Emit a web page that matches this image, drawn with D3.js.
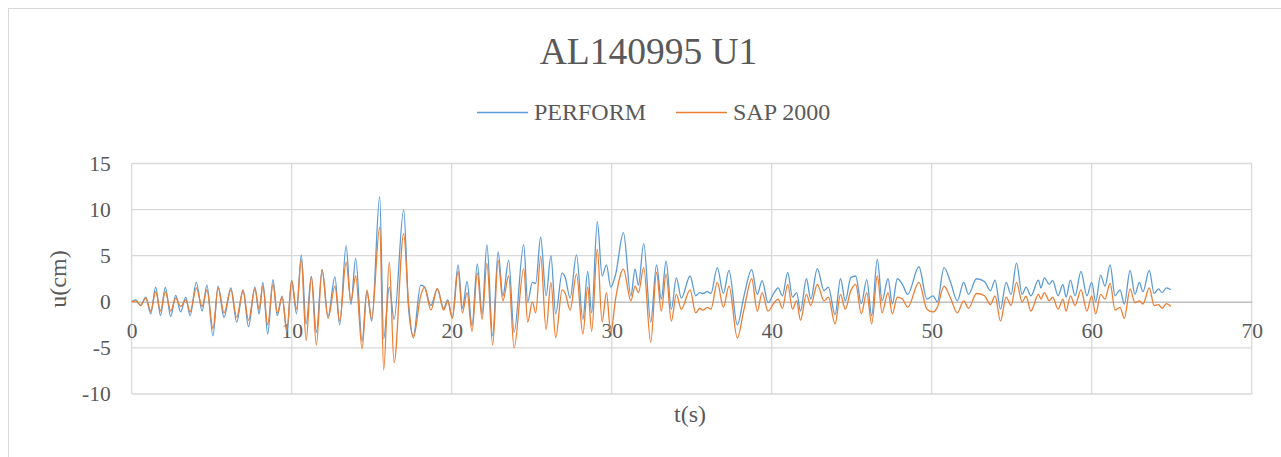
<!DOCTYPE html>
<html>
<head>
<meta charset="utf-8">
<script src="https://cdn.jsdelivr.net/npm/d3@7"></script>
<style>
  html, body { margin: 0; padding: 0; background: #fff; }
  svg { display: block; }
  text { font-family: "Liberation Serif", "Times New Roman", serif; fill: #595959; }
</style>
</head>
<body>
<svg id="chart" width="1281" height="457"></svg>
<script>
// ---- Data ----
const title = "AL140995 U1";
const seriesNames = ["PERFORM", "SAP 2000"];
const xTicks = [0, 10, 20, 30, 40, 50, 60, 70];
const yTicks = [-10, -5, 0, 5, 10, 15];

const time = [
  0.0, 0.25, 0.56, 0.88, 1.19, 1.5, 1.8, 2.1, 2.44, 2.75, 3.06, 3.38, 3.65, 4.04, 4.4, 4.7,
  5.08, 5.4, 5.77, 6.2, 6.56, 6.96, 7.3, 7.7, 7.96, 8.2, 8.5, 8.83, 9.1, 9.4, 9.7,
  10.0, 10.3, 10.6, 10.9, 11.23, 11.54, 11.9, 12.27, 12.7, 13.0, 13.4, 13.7, 14.0, 14.4, 14.7,
  15.0, 15.5, 15.75, 16.1, 16.4, 17.0, 17.3, 17.6, 18.06, 18.3, 18.7, 19.1, 19.5, 19.75,
  20.04, 20.4, 20.67, 20.96, 21.27, 21.6, 21.9, 22.2, 22.56, 22.9, 23.2, 23.56, 23.9, 24.5, 24.75,
  25.04, 25.25, 25.56, 25.9, 26.2, 26.5, 26.9, 27.1, 27.4, 27.8, 28.2, 28.5, 28.75, 29.1, 29.4, 29.67, 29.94,
  30.25, 30.73, 31.2, 31.46, 31.67, 32.0, 32.44, 32.8, 33.1, 33.4, 33.73, 34.04, 34.35, 34.9,
  35.25, 35.5, 35.7, 35.98, 36.2, 36.6, 36.98, 37.33, 37.85, 38.27, 38.75, 39.1, 39.4, 39.77,
  40.15, 40.4, 40.67, 41.0, 41.3, 41.56, 41.8, 42.17, 42.44, 42.85, 43.27, 43.54, 43.96, 44.3, 44.6, 44.94,
  45.25, 45.6, 45.94, 46.25, 46.6, 46.9, 47.27, 47.54, 47.85, 48.17, 48.5, 49.2, 49.7,
  50.08, 50.35, 50.77, 51.2, 51.6, 52.0, 52.3, 52.8, 53.3, 53.67, 53.96, 54.3, 54.65, 54.96,
  55.3, 55.65, 55.9, 56.2, 56.67, 56.83, 57.04, 57.35, 57.56, 57.9, 58.2, 58.4, 58.67, 58.96, 59.33, 59.7,
  60.0, 60.25, 60.56, 60.83, 61.15, 61.46, 61.77, 62.04, 62.4, 62.7, 62.98, 63.2, 63.6, 63.9, 64.17, 64.4, 64.67, 64.95
];

const perform = [
  0.0, 0.2, -0.4, 0.5, -1.3, 1.6, -1.5, 1.6, -1.6, 0.7, -1.1, 0.5, -1.5, 2.1, -1.0, 1.8,
  -3.7, 1.7, -1.7, 1.5, -2.2, 1.3, -2.7, 1.6, -1.3, 2.1, -3.5, 2.4, -1.5, 0.6, -3.3,
  2.3, -1.3, 5.1, -2.4, 2.75, -3.3, 3.5, -1.6, 2.7, -2.5, 6.1, -0.3, 4.7, -4.3, 1.1,
  -2.1, 11.4, -4.0, 1.6, -1.9, 10.0, -0.6, -3.7, 1.8, 1.6, -0.4, 1.4, -0.7, 0.2,
  -1.7, 4.0, -0.7, 2.2, -2.6, 4.1, -1.3, 6.2, -3.7, 5.4, 0.65, 4.5, -3.3, 6.2, 0.0,
  2.1, 2.0, 7.0, 0.65, 5.0, -1.3, 3.1, 2.6, 0.4, 5.1, -1.9, 3.3, -1.2, 8.7, 2.8, 4.0, 1.6,
  3.0, 7.5, 0.65, 3.55, 1.8, 6.3, -2.2, 4.0, 0.3, 4.4, -0.8, 2.6, 0.4, 2.8,
  0.65, 1.0, 0.9, 1.1, 0.9, 3.7, 0.9, 3.4, -2.5, 0.65, 3.5, 0.8, 2.3, -0.1,
  1.0, 1.5, 0.65, 3.2, 0.5, 1.0, -1.0, 2.5, 0.3, 3.6, 1.2, 1.6, -1.4, 2.5, 0.1, 2.6,
  2.8, -0.2, 2.4, -1.5, 4.6, 0.1, 2.5, -0.25, 2.5, 1.9, 0.8, 3.8, 0.3,
  0.65, 0.0, 3.7, 2.0, 0.1, 2.1, 0.8, 2.5, 2.2, 1.2, 2.35, -0.8, 2.1, 0.8,
  4.2, 0.8, 1.6, 0.65, 2.35, 1.5, 2.6, 1.9, 2.3, 0.65, 1.9, 0.5, 2.35, 0.65, 3.3, 0.65,
  2.1, 0.0, 2.9, 1.7, 4.0, 0.65, 1.3, -0.25, 3.4, 0.8, 2.1, 1.1, 3.4, 0.9, 1.4, 1.0, 1.5, 1.3
];

const sap2000 = [
  0.0, 0.1, -0.4, 0.4, -1.0, 1.1, -1.0, 1.1, -1.0, 0.4, -0.5, 0.2, -1.1, 1.5, -0.5, 1.3,
  -2.9, 1.5, -1.2, 1.3, -1.7, 1.2, -2.0, 1.4, -0.8, 1.7, -2.5, 1.9, -1.2, 0.5, -3.0,
  2.3, -0.8, 4.6, -4.2, 2.75, -4.7, 3.5, -1.8, 1.7, -2.1, 4.3, 0.1, 2.8, -5.1, 1.3,
  -1.9, 8.1, -7.4, 4.3, -6.6, 7.4, -0.1, -3.9, 0.65, 1.6, -0.9, 1.45, -0.9, 0.1,
  -1.8, 3.3, -1.2, 1.0, -3.2, 3.1, -1.9, 4.2, -4.7, 4.5, 0.1, 2.8, -5.0, 3.6, -2.2,
  0.0, -1.2, 4.9, -3.0, 2.1, -3.9, 1.3, 0.9, -0.9, 3.0, -3.5, 1.6, -3.2, 5.7, -2.2, 1.0, -3.3,
  0.4, 3.55, 0.1, 1.7, 1.0, 3.7, -4.4, 3.2, -1.0, 3.0, -2.1, 0.8, -0.8, 1.3,
  -1.2, -0.7, -0.9, -0.6, -0.8, 2.1, -0.6, 1.7, -3.9, -0.8, 2.5, -1.0, 1.0, -1.0,
  -0.1, 0.3, -0.7, 1.9, -0.8, 0.1, -2.0, 0.8, -0.4, 1.9, 0.1, 0.5, -2.4, 0.8, -0.8, 1.2,
  1.9, -1.3, 1.0, -2.4, 2.8, -1.2, 1.0, -1.3, 0.5, 0.3, -0.6, 2.1, -0.8,
  -1.1, -0.6, 1.7, 0.3, -1.2, 0.1, -0.7, 0.9, 0.65, -0.3, 0.65, -2.1, 0.5, -0.4,
  2.1, 0.0, 0.6, -1.0, 0.8, 0.3, 1.0, 0.1, 0.5, -0.8, 0.3, -1.0, 0.65, -0.4, 1.3, -1.0,
  0.65, -1.3, 0.8, 0.3, 2.0, -0.9, -0.6, -1.8, 1.4, -0.1, 0.1, -0.25, 1.5, -0.4, -0.3, -0.7, -0.2, -0.5
];

const colors = ["#5B9BD5", "#ED7D31"];

// ---- Layout ----
const svg = d3.select("#chart");
const W = 1281, H = 457;
const plot = { left: 131.7, right: 1251.7, top: 163.5, bottom: 394 };

svg.append("rect").attr("x", 0).attr("y", 0).attr("width", W).attr("height", H).attr("fill", "#fff");
// chart area border
svg.append("rect").attr("x", 8.5).attr("y", 8.5).attr("width", 1300).attr("height", 520)
  .attr("fill", "none").attr("stroke", "#d9d9d9").attr("stroke-width", 1);

const x = d3.scaleLinear().domain([0, 70]).range([plot.left, plot.right]);
const y = d3.scaleLinear().domain([-10, 15]).range([plot.bottom, plot.top]);

// gridlines
const grid = svg.append("g");
grid.selectAll("line.h").data(yTicks.filter(v => v !== 0)).join("line")
  .attr("x1", plot.left).attr("x2", plot.right)
  .attr("y1", d => y(d)).attr("y2", d => y(d))
  .attr("stroke", "#d9d9d9").attr("stroke-width", 1.3);
grid.selectAll("line.v").data(xTicks).join("line")
  .attr("x1", d => x(d)).attr("x2", d => x(d))
  .attr("y1", plot.top).attr("y2", plot.bottom)
  .attr("stroke", "#d9d9d9").attr("stroke-width", 1.3);

const fmt = d => String(d);

// y axis labels
const yAxis = d3.axisLeft(y).tickValues(yTicks).tickFormat(fmt).tickSize(0).tickPadding(21);
const gy = svg.append("g").attr("transform", `translate(${plot.left},0)`).call(yAxis);
gy.select(".domain").remove();
gy.selectAll("text").style("font-family", '"Liberation Serif", serif').style("font-size", "21.5px").attr("fill", "#595959");

// x axis line at zero with labels below
const xAxis = d3.axisBottom(x).tickValues(xTicks).tickFormat(fmt).tickSize(0).tickPadding(20.5);
const gx = svg.append("g").attr("transform", `translate(0,${y(0)})`).call(xAxis);
gx.select(".domain").attr("stroke", "#bfbfbf").attr("stroke-width", 1.5);
gx.selectAll("text").style("font-family", '"Liberation Serif", serif').style("font-size", "21.5px").attr("fill", "#595959");

// series
const line = d3.line().x(d => x(d[0])).y(d => y(d[1])).curve(d3.curveMonotoneX);
[perform, sap2000].forEach((vals, i) => {
  svg.append("path")
    .datum(time.map((t, k) => [t, vals[k]]))
    .attr("fill", "none")
    .attr("stroke", colors[i])
    .attr("stroke-width", 1.3)
    .attr("d", line);
});

// title
svg.append("text").attr("x", 648.5).attr("y", 64).attr("text-anchor", "middle")
  .style("font-size", "37.5px").text(title);

// legend
const legendItems = [{ x: 477 }, { x: 676 }];
legendItems.forEach((it, i) => {
  svg.append("line").attr("x1", it.x).attr("x2", it.x + 51).attr("y1", 112.5).attr("y2", 112.5)
    .attr("stroke", colors[i]).attr("stroke-width", 1.3);
  svg.append("text").attr("x", it.x + 57).attr("y", 120).style("font-size", "24px").text(seriesNames[i]);
});

// axis titles
svg.append("text").attr("x", 690).attr("y", 422).attr("text-anchor", "middle")
  .style("font-size", "24px").text("t(s)");
svg.append("text").attr("transform", "translate(66,279) rotate(-90)").attr("text-anchor", "middle")
  .style("font-size", "24px").text("u(cm)");
</script>
</body>
</html>
